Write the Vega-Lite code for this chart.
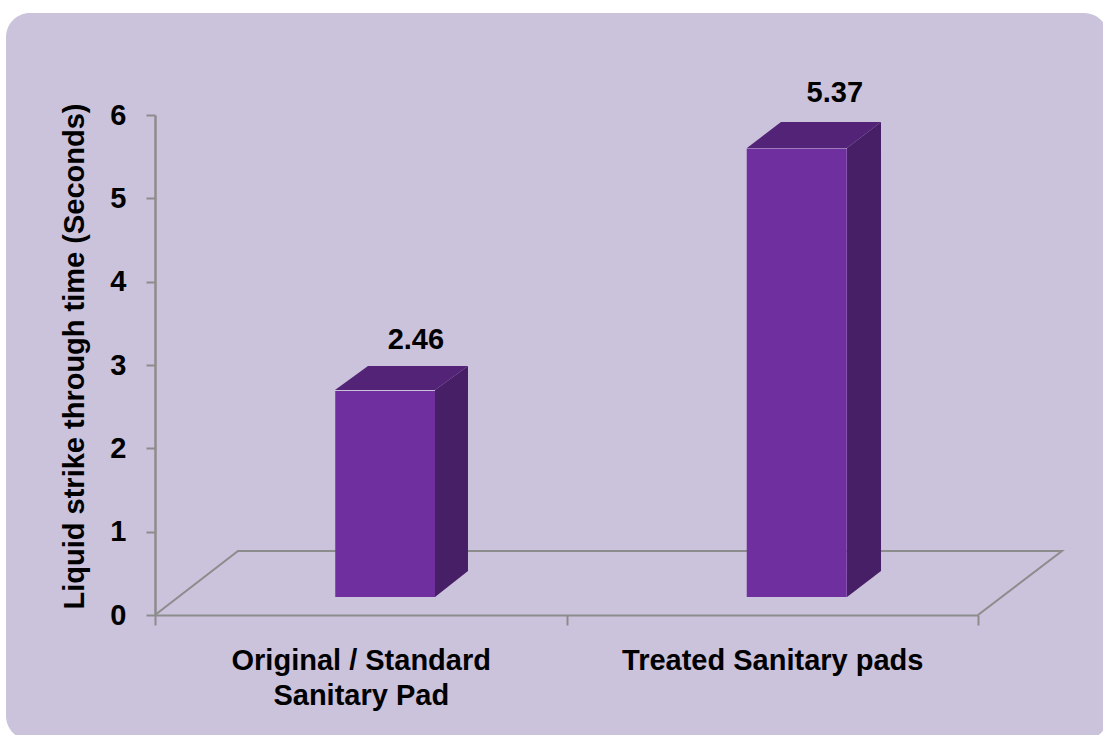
{
  "$schema": "https://vega.github.io/schema/vega-lite/v6.json",
  "width": 1097,
  "height": 722,
  "autosize": "none",
  "padding": {"left": 6, "top": 13, "right": 0, "bottom": 0},
  "background": "#ffffff",
  "view": {"stroke": null},
  "datasets": {
    "panel": [
      {"left": -0.362, "right": 2.316, "top": 7.224, "bottom": -1.5}
    ],
    "pads": [
      {"pad": "Original / Standard Sanitary Pad", "strike": 2.46},
      {"pad": "Treated Sanitary pads", "strike": 5.37}
    ],
    "floor": [
      {"step": 1, "depth": 0, "level": 0},
      {"step": 2, "depth": 0.2017, "level": 0.768},
      {"step": 3, "depth": 2.204, "level": 0.768},
      {"step": 4, "depth": 2, "level": 0}
    ],
    "faces": [
      {"face": "side A", "shade": "side", "px": 0.6804, "lo": 0.216, "hi": 2.7},
      {"face": "side A", "shade": "side", "px": 0.7606, "lo": 0.528, "hi": 2.988},
      {"face": "top A", "shade": "top", "px": 0.4374, "lo": 2.7, "hi": 2.7},
      {"face": "top A", "shade": "top", "px": 0.5176, "lo": 2.7, "hi": 2.988},
      {"face": "top A", "shade": "top", "px": 0.6804, "lo": 2.7, "hi": 2.988},
      {"face": "top A", "shade": "top", "px": 0.7606, "lo": 2.988, "hi": 2.988},
      {"face": "side B", "shade": "side", "px": 1.6817, "lo": 0.216, "hi": 5.604},
      {"face": "side B", "shade": "side", "px": 1.7643, "lo": 0.528, "hi": 5.916},
      {"face": "top B", "shade": "top", "px": 1.4386, "lo": 5.604, "hi": 5.604},
      {"face": "top B", "shade": "top", "px": 1.5213, "lo": 5.604, "hi": 5.916},
      {"face": "top B", "shade": "top", "px": 1.6817, "lo": 5.604, "hi": 5.916},
      {"face": "top B", "shade": "top", "px": 1.7643, "lo": 5.916, "hi": 5.916}
    ],
    "callouts": [
      {"strike": 2.46, "at": 0.634, "rise": 3.192},
      {"strike": 5.37, "at": 1.652, "rise": 6.156}
    ]
  },
  "resolve": {"scale": {"x": "independent"}},
  "layer": [
    {
      "data": {"name": "panel"},
      "mark": {"type": "rect", "color": "#CBC2DB", "cornerRadius": 24},
      "encoding": {
        "x": {"field": "left", "type": "quantitative", "axis": null, "scale": {"domain": [0, 2], "range": [149, 972]}},
        "x2": {"field": "right"},
        "y": {"field": "top", "type": "quantitative"},
        "y2": {"field": "bottom"}
      }
    },
    {
      "data": {"name": "floor"},
      "mark": {"type": "line", "color": "#8C8C8C", "strokeWidth": 2},
      "encoding": {
        "x": {"field": "depth", "type": "quantitative", "axis": null, "scale": {"domain": [0, 2], "range": [149, 972]}},
        "y": {"field": "level", "type": "quantitative", "scale": {"domain": [0, 6], "range": [602, 102]}, "axis": {
          "zindex": 1,
          "offset": -149,
          "values": [0, 1, 2, 3, 4, 5, 6],
          "format": "d",
          "grid": false,
          "title": "Liquid strike through time (Seconds)",
          "titleFont": "Liberation Sans",
          "titleFontSize": 29,
          "titleFontWeight": "bold",
          "titleColor": "#000000",
          "titleX": -81,
          "titleY": 343,
          "titleAngle": -90,
          "titleAlign": "center",
          "titleBaseline": "middle",
          "labelFont": "Liberation Sans",
          "labelFontSize": 29,
          "labelFontWeight": "bold",
          "labelColor": "#000000",
          "labelPadding": 20,
          "domainColor": "#8C8C8C",
          "domainWidth": 2.5,
          "tickColor": "#8C8C8C",
          "tickWidth": 2,
          "tickSize": 9
        }},
        "order": {"field": "step", "type": "ordinal"}
      }
    },
    {
      "data": {"name": "pads"},
      "mark": {"type": "bar", "color": "#6F2F9F", "size": 100, "xOffset": 24.5, "yOffset": -19, "y2Offset": -18},
      "encoding": {
        "x": {
          "field": "pad",
          "type": "nominal",
          "sort": null,
          "scale": {"range": [149, 972], "paddingInner": 0, "paddingOuter": 0},
          "axis": {
            "zindex": 1,
            "offset": -120,
            "title": null,
            "labelAngle": 0,
            "labelAlign": "center",
            "labelBaseline": "top",
            "labelFont": "Liberation Sans",
            "labelFontSize": 29,
            "labelFontWeight": "bold",
            "labelColor": "#000000",
            "labelPadding": 21,
            "labelLimit": 500,
            "labelLineHeight": 35,
            "labelOverlap": false,
            "labelExpr": "datum.value == 'Original / Standard Sanitary Pad' ? ['Original / Standard', 'Sanitary Pad'] : datum.label",
            "tickBand": "extent",
            "tickExtra": true,
            "tickSize": 10,
            "tickWidth": 2,
            "tickColor": "#8C8C8C",
            "domainColor": "#8C8C8C",
            "domainWidth": 2
          }
        },
        "y": {"field": "strike", "type": "quantitative", "stack": null},
        "y2": {"datum": 0}
      }
    },
    {
      "data": {"name": "faces"},
      "mark": {"type": "area", "line": false, "interpolate": "linear"},
      "encoding": {
        "x": {"field": "px", "type": "quantitative", "axis": null, "scale": {"domain": [0, 2], "range": [149, 972]}},
        "y": {"field": "lo", "type": "quantitative", "stack": null},
        "y2": {"field": "hi"},
        "detail": {"field": "face"},
        "color": {"field": "shade", "type": "nominal", "legend": null, "scale": {"domain": ["side", "top"], "range": ["#471F66", "#532378"]}}
      }
    },
    {
      "data": {"name": "callouts"},
      "mark": {"type": "text", "font": "Liberation Sans", "fontSize": 29, "fontWeight": "bold", "color": "#000000", "align": "center", "baseline": "alphabetic"},
      "encoding": {
        "x": {"field": "at", "type": "quantitative", "axis": null, "scale": {"domain": [0, 2], "range": [149, 972]}},
        "y": {"field": "rise", "type": "quantitative"},
        "text": {"field": "strike", "type": "quantitative", "format": ".2f"}
      }
    }
  ]
}
